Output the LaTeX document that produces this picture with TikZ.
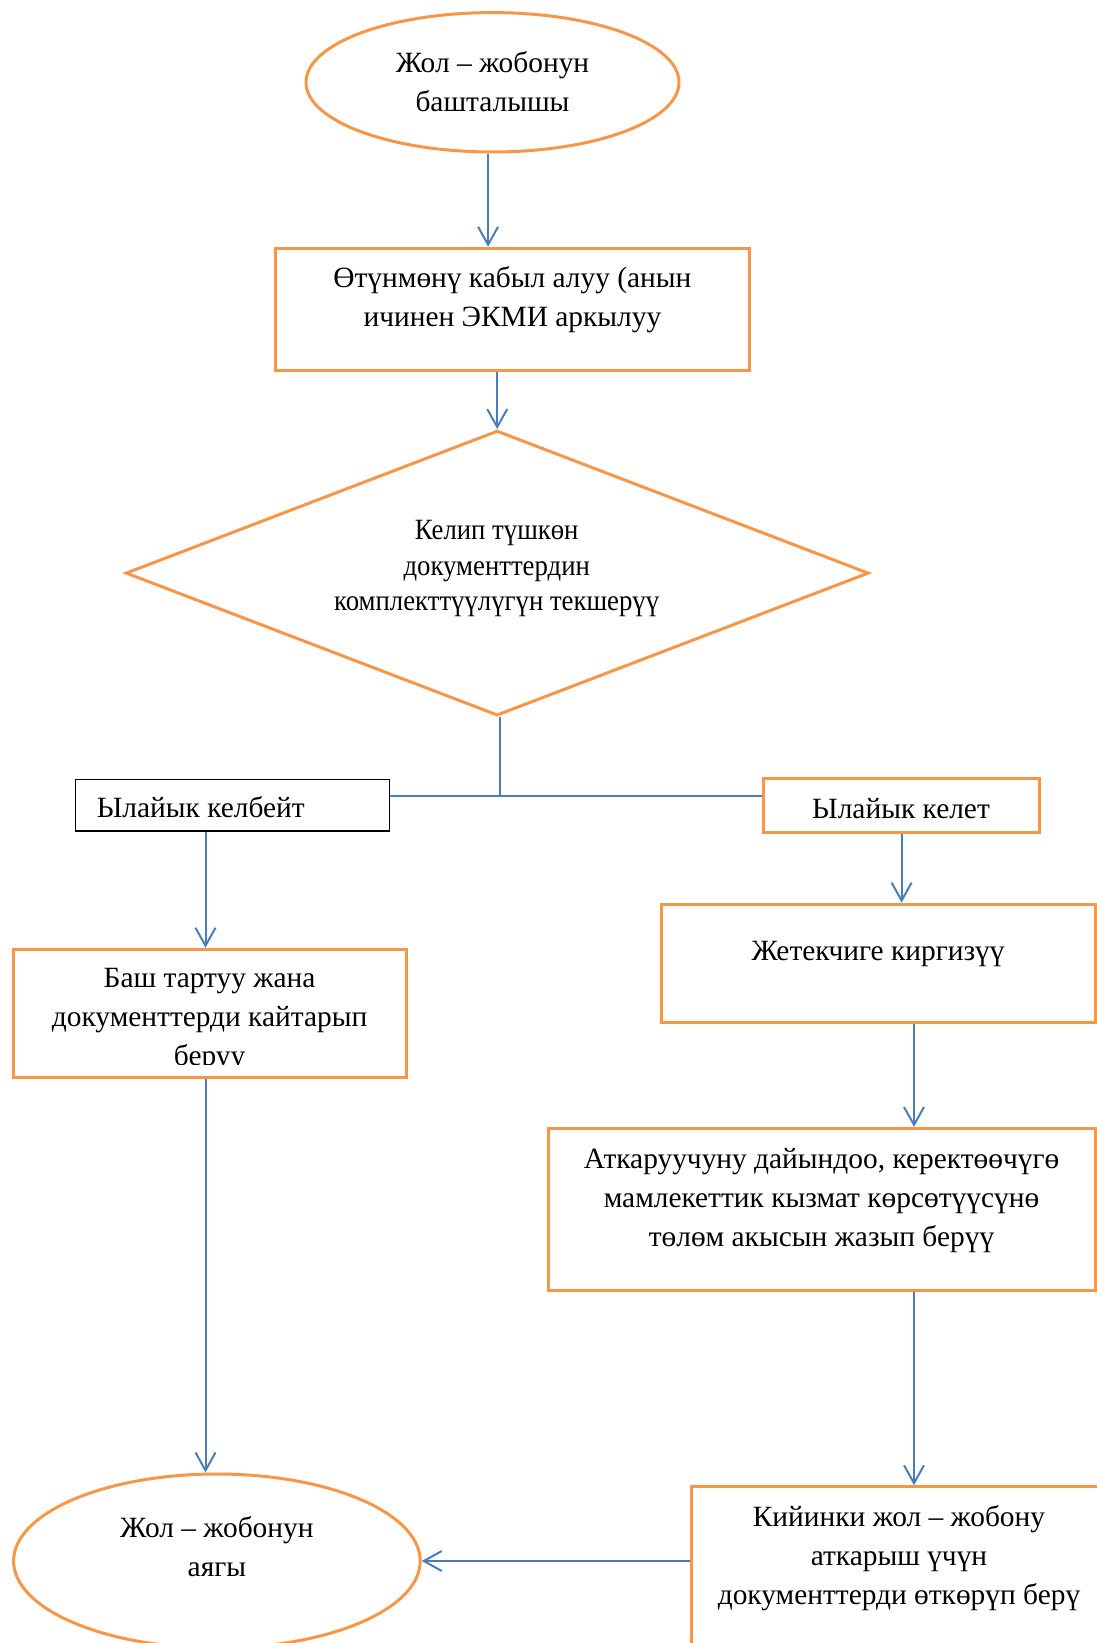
\documentclass[tikz,border=0pt]{standalone}
\usepackage{fontspec}
\setmainfont{Liberation Serif}
\newfontfamily\narrowserif[FakeStretch=0.91]{Liberation Serif}
\usetikzlibrary{arrows.meta}
\usetikzlibrary{shapes.geometric}
\tikzset{>={Straight Barb[length=9pt,width=10pt]}}
\definecolor{wordorange}{RGB}{247,150,70}
\definecolor{wordblue}{RGB}{74,126,187}

\begin{document}
\begin{tikzpicture}[x=0.5pt, y=-0.5pt,
  startstop/.style={ellipse, draw=wordorange, line width=1.5pt, inner sep=0pt},
  process/.style={rectangle, draw=wordorange, line width=1.5pt, inner sep=0pt},
  plainbox/.style={rectangle, draw=black, line width=0.6pt, inner sep=0pt},
  decision/.style={diamond, aspect=2.6, draw=wordorange, line width=1.5pt, inner sep=0pt},
  txt/.style={align=center, inner sep=0pt, font=\fontsize{14.7pt}{19.4pt}\selectfont},
  flow/.style={draw=wordblue, line width=1pt}]
  \useasboundingbox (0,0) rectangle (1097,1643);
  % shapes
  \node[startstop, minimum width=186.5pt, minimum height=69.7pt] (start) at (492.5,82.3) {};
  \node[process, minimum width=236.8pt, minimum height=61.3pt] (recv) at (512.4,309.6) {};
  \node[decision, minimum width=371.5pt, minimum height=142.5pt] (check) at (497.2,573.1) {};
  \node[plainbox, minimum width=157.2pt, minimum height=25.7pt] (no) at (232.6,805.2) {};
  \node[process, minimum width=137.8pt, minimum height=26.75pt] (yes) at (901.6,805.3) {};
  \node[process, minimum width=196.5pt, minimum height=63.9pt] (refuse) at (210.1,1013.2) {};
  \node[process, minimum width=216.9pt, minimum height=59.2pt] (head) at (878.1,963.4) {};
  \node[process, minimum width=273.5pt, minimum height=81.2pt] (prep) at (821.5,1209.7) {};
  \node[process, minimum width=218pt, minimum height=90pt] (pass) at (909.5,1576.8) {};
  \node[startstop, minimum width=203.3pt, minimum height=87pt] (finish) at (216.9,1561) {};
  % texts
  \node[txt] (tstart) at (492.5,81.5) {Жол – жобонун\\башталышы};
  \node[txt] (trecv) at (512.4,300) {Өтүнмөнү кабыл алуу (анын\\ичинен ЭКМИ аркылуу};
  \node[txt, font=\narrowserif\fontsize{14.7pt}{17.8pt}\selectfont] (tcheck) at (496.7,568.8)
    {Келип түшкөн\\документтердин\\комплекттүүлүгүн текшерүү};
  \node[txt, anchor=west] (tno) at (96.4,806.8) {Ылайык келбейт};
  \node[txt] (tyes) at (901,808.9) {Ылайык келет};
  \begin{scope}
    \clip (refuse.north west) rectangle ([yshift=7pt]refuse.south east);
    \node[txt] (trefuse) at (209.6,1019.8) {Баш тартуу жана\\документтерди кайтарып\\беруу};
  \end{scope}
  \node[txt] (thead) at (878.1,954) {Жетекчиге киргизүү};
  \node[txt] (tprep) at (821.5,1200.5) {Аткаруучуну дайындоо, керектөөчүгө\\мамлекеттик кызмат көрсөтүүсүнө\\төлөм акысын жазып берүү};
  \node[txt] (tpass) at (899,1558) {Кийинки жол – жобону\\аткарыш үчүн\\документтерди өткөрүп берү};
  \node[txt] (tfinish) at (216.9,1546.5) {Жол – жобонун\\аягы};
  % connectors
  \coordinate (j) at (499.8,796.3);
  \coordinate (lc) at (205.5,0);
  \coordinate (rc) at (914,0);
  \draw[flow,->] ([xshift=-2.2pt]start.south) -- ([xshift=-2.2pt]start.south |- recv.north);
  \draw[flow,->] (check.north |- recv.south) -- (check.north);
  \draw[flow] (check.south -| j) -- (j);
  \draw[flow] (no.east |- j) -- (yes.west |- j);
  \draw[flow,->] (lc |- no.south) -- (lc |- refuse.north);
  \draw[flow,->] (lc |- refuse.south) -- (lc |- finish.north);
  \draw[flow,->] (yes.south) -- (yes.south |- head.north);
  \draw[flow,->] (rc |- head.south) -- (rc |- prep.north);
  \draw[flow,->] (rc |- prep.south) -- (rc |- pass.north);
  \draw[flow,->] (pass.west |- finish.east) -- (finish.east);
\end{tikzpicture}
\end{document}
